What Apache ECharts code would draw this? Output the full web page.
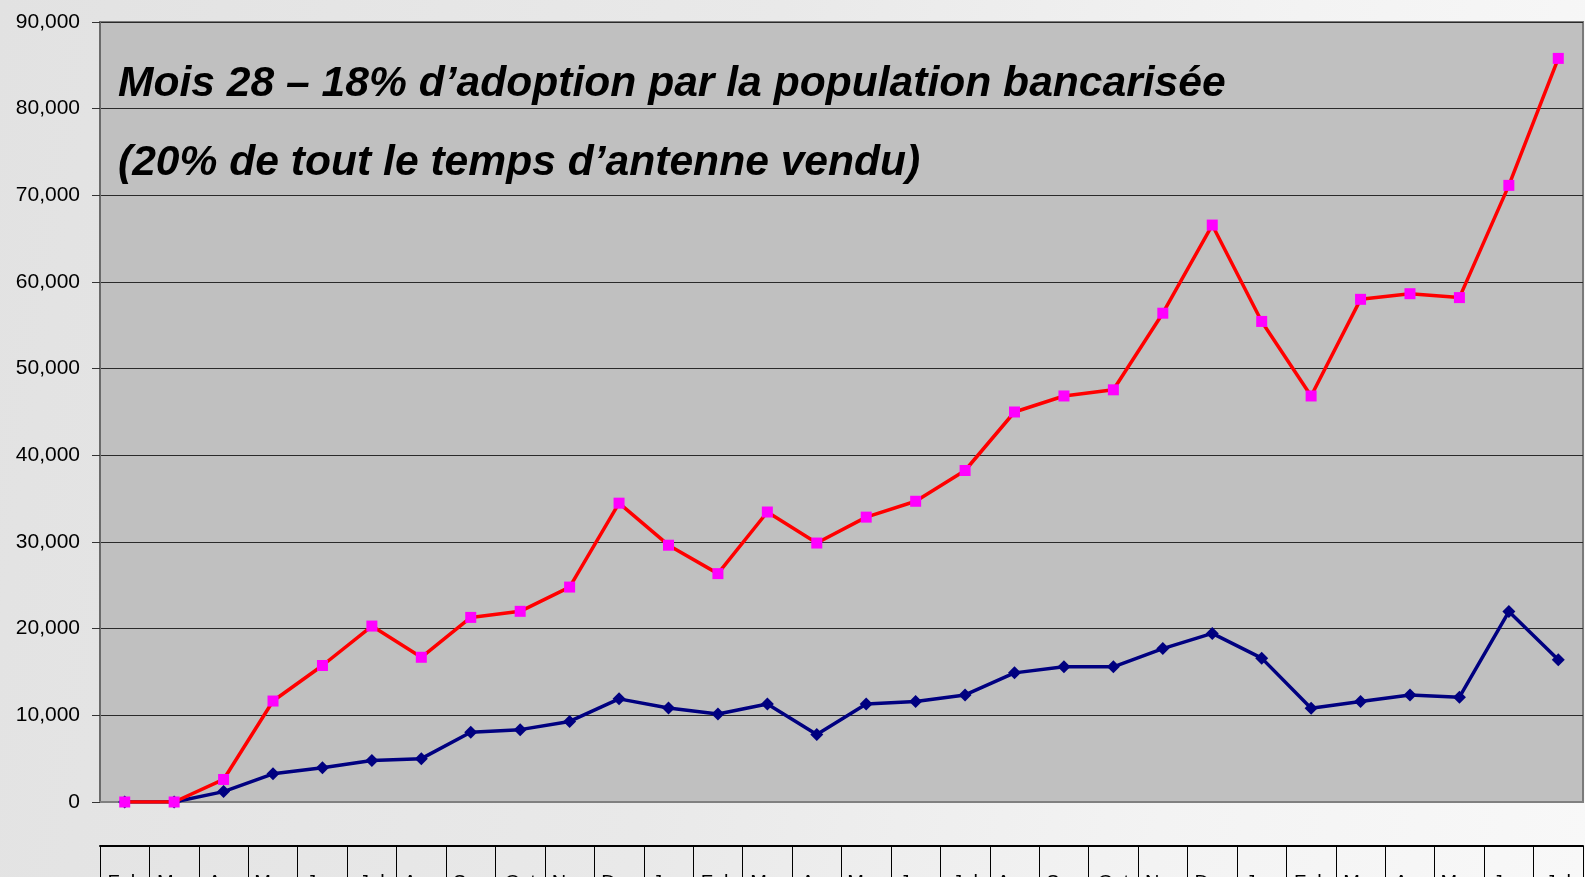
<!DOCTYPE html>
<html>
<head>
<meta charset="utf-8">
<script src="https://cdn.jsdelivr.net/npm/echarts@6/dist/echarts.min.js"></script>
<style>
  html, body { margin: 0; padding: 0; }
  #main {
    width: 1585px; height: 877px;
    background: linear-gradient(100deg, #e2e2e2 0%, #e9e9e9 45%, #f3f3f3 75%, #f8f8f8 100%);
  }
</style>
</head>
<body>
<div id="main"></div>
<script>
// mois (30 points, fev. -> juil.)
let months = ['Feb', 'Mar', 'Apr', 'May', 'Jun', 'Jul', 'Aug', 'Sep', 'Oct', 'Nov', 'Dec', 'Jan',
	'Feb', 'Mar', 'Apr', 'May', 'Jun', 'Jul', 'Aug', 'Sep', 'Oct', 'Nov', 'Dec', 'Jan',
	'Feb', 'Mar', 'Apr', 'May', 'Jun', 'Jul'];

// serie bleue (losanges)
let blueValues = [0, 0, 1200, 3250, 3950, 4780, 5000, 8050, 8350, 9300, 11900, 10850,
	10150, 11300, 7800, 11300, 11600, 12350, 14900, 15600, 15600, 17700, 19450, 16600,
	10820, 11600, 12350, 12100, 21980, 16400];

// serie rouge (carres magenta)
let redValues = [0, 0, 2600, 11650, 15750, 20300, 16700, 21300, 22000, 24800, 34480, 29630,
	26350, 33460, 29880, 32870, 34700, 38250, 45000, 46850, 47560, 56400, 66570, 55450,
	46850, 58000, 58650, 58200, 71150, 85800];

// graduations de l'axe vertical
let yMin = 0;
let yMax = 90000;
let yStep = 10000;

let titleLines = ['Mois 28 \u2013 18% d\u2019adoption par la population bancaris\u00e9e',
	'(20% de tout le temps d\u2019antenne vendu)'];

let chart = echarts.init(document.getElementById('main'), null, { renderer: 'canvas' });

let titleFont = 'italic bold 42.6px "Liberation Sans", Arial, sans-serif';

let option = {
	backgroundColor: 'transparent',
	animation: false,
	graphic: [
		{ type: 'text', left: 118, top: 63, z: 10,
			style: { text: titleLines[0], font: titleFont, fill: '#000' } },
		{ type: 'text', left: 118, top: 142, z: 10,
			style: { text: titleLines[1], font: titleFont, fill: '#000' } }
	],
	grid: {
		left: 100, right: 2, top: 22, bottom: 75,
		containLabel: false,
		outerBoundsMode: 'none',
		show: true,
		backgroundColor: '#c0c0c0',
		borderColor: '#7a7a7a',
		borderWidth: 2
	},
	xAxis: [
		{
			type: 'category',
			data: months,
			boundaryGap: true,
			axisLine: { show: true, lineStyle: { color: '#808080', width: 2 } },
			axisTick: { show: false },
			axisLabel: { show: false }
		},
		{
			// tableau des mois sous le graphique
			type: 'category',
			data: months,
			position: 'bottom',
			offset: 44,
			boundaryGap: true,
			axisLine: { show: true, lineStyle: { color: '#000', width: 2 } },
			axisTick: { show: true, length: 40, inside: false, lineStyle: { color: '#000', width: 1 } },
			axisLabel: {
				show: true, interval: 0, margin: 27, verticalAlign: 'top',
				fontFamily: '"Liberation Sans", Arial, sans-serif',
				fontSize: 20, color: '#000'
			}
		}
	],
	yAxis: {
		type: 'value',
		min: yMin, max: yMax, interval: yStep,
		axisLine: { show: true, lineStyle: { color: '#6a6a6a', width: 2 } },
		axisTick: { show: true, length: 8, lineStyle: { color: '#333', width: 1 } },
		axisLabel: {
			margin: 20,
			fontFamily: '"Liberation Sans", Arial, sans-serif',
			fontSize: 21, color: '#000',
			formatter: function(v) { return v.toLocaleString('en-US'); }
		},
		splitLine: { show: true, lineStyle: { color: '#2a2a2a', width: 1.2 } }
	},
	series: [
		{
			name: 'bleu',
			type: 'line',
			xAxisIndex: 0,
			data: blueValues,
			symbol: 'diamond',
			symbolSize: 13,
			lineStyle: { color: '#000080', width: 3.5 },
			itemStyle: { color: '#000080' },
			z: 3
		},
		{
			name: 'rouge',
			type: 'line',
			xAxisIndex: 0,
			data: redValues,
			symbol: 'rect',
			symbolSize: 11,
			lineStyle: { color: '#ff0000', width: 3.5 },
			itemStyle: { color: '#ff00ff' },
			z: 4
		}
	]
};

chart.setOption(option);
</script>
</body>
</html>
